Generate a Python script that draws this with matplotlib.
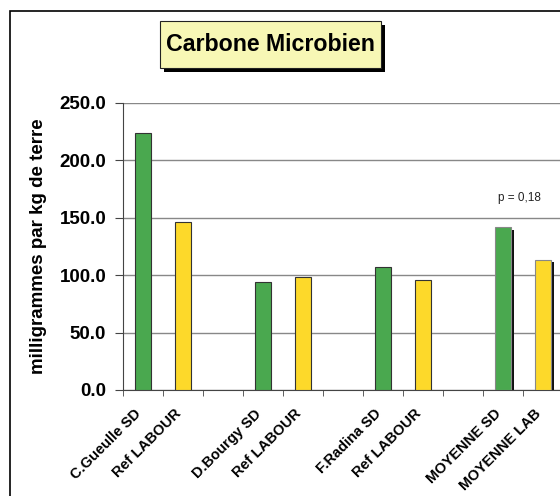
import matplotlib
matplotlib.use('Agg')
import matplotlib.pyplot as plt
from matplotlib.patches import Rectangle
import numpy as np

plt.rcParams['font.family'] = ['Liberation Sans', 'DejaVu Sans']

#==============================================================================
# Data
#==============================================================================
labels = ['C.Gueulle SD', 'Ref LABOUR', '', 'D.Bourgy SD', 'Ref LABOUR', '',
          'F.Radina SD', 'Ref LABOUR', '', 'MOYENNE SD', 'MOYENNE LAB']
sdValues = [224.0, 94.0, 107.5]
labValues = [146.0, 98.0, 95.5]
meanSd = 141.8
meanLab = 113.2
pText = 'p = 0,18'

green = '#4aa84f'
yellow = '#fdd92a'

#==============================================================================
# Figure
#==============================================================================
fig = plt.figure(figsize=(5.6, 4.96), dpi=100)
W, H = 560, 496

# outer frame (cropped on the right and bottom)
fig.patches.append(Rectangle((10 / W, -0.1), 1.2, 1 - 11 / H + 0.1,
                             transform=fig.transFigure, fill=False,
                             edgecolor='black', linewidth=1.2))

ax = fig.add_axes([123 / W, 1 - 390 / H, 440 / W, 287 / H])
ax.set_xlim(-0.5, 10.5)
ax.set_ylim(0, 250)

sdPos = [0, 3, 6]
labPos = [1, 4, 7]
bw = 0.4
ax.bar(sdPos, sdValues, width=bw, color=green, edgecolor='#333333',
       linewidth=0.8, zorder=3)
ax.bar(labPos, labValues, width=bw, color=yellow, edgecolor='#333333',
       linewidth=0.8, zorder=3)

# means with a drop shadow
for pos, val, col in [(9, meanSd, green), (10, meanLab, yellow)]:
    ax.bar(pos + 0.075, val - 2, width=bw, color='#111111', linewidth=0,
           zorder=2)
    ax.bar(pos, val, width=bw, color=col, edgecolor='#888888',
           linewidth=0.8, zorder=3)

ax.text(9.42, 167, pText, fontsize=8.5, ha='center', va='center',
        color='#222222')

ax.set_yticks(np.arange(0, 251, 50))
ax.set_yticklabels(['%.1f' % v for v in np.arange(0, 251, 50)],
                   fontsize=13.5, fontweight='bold')
ax.yaxis.grid(True, color='#888888', linewidth=1.0, zorder=0)
ax.set_axisbelow(True)

# slot boundaries get the tick marks; labels sit a bit left of the slot centre
ax.set_xticks(np.arange(-0.5, 11, 1), minor=True)
ax.set_xticks(np.arange(len(labels)) - 0.22)
ax.set_xticklabels(labels, rotation=45, ha='right', va='top',
                   rotation_mode='anchor', fontsize=10.5, fontweight='bold')
ax.tick_params(axis='x', which='major', length=0, pad=12)
ax.tick_params(axis='x', which='minor', length=4, color='#444444')
ax.tick_params(axis='y', length=6, color='#444444', pad=6)

for s in ['top', 'right']:
    ax.spines[s].set_visible(False)
ax.spines['left'].set_color('#444444')
ax.spines['bottom'].set_color('#444444')

ax.set_ylabel('milligrammes par kg de terre', fontsize=13.5,
              fontweight='bold', labelpad=9)

#==============================================================================
# Title box with shadow
#==============================================================================
bx, by, bwid, bh = 160, 21, 221, 47
fig.patches.append(Rectangle(((bx + 4) / W, 1 - (by + bh + 4) / H),
                             bwid / W, bh / H, transform=fig.transFigure,
                             facecolor='black', edgecolor='none'))
fig.patches.append(Rectangle((bx / W, 1 - (by + bh) / H), bwid / W, bh / H,
                             transform=fig.transFigure, facecolor='#f7f7b5',
                             edgecolor='#222222', linewidth=0.8))
fig.text((bx + bwid / 2) / W, 1 - (by + bh / 2) / H, 'Carbone Microbien',
         fontsize=16.7, fontweight='bold', ha='center', va='center')

fig.savefig('out.png', dpi=100)
